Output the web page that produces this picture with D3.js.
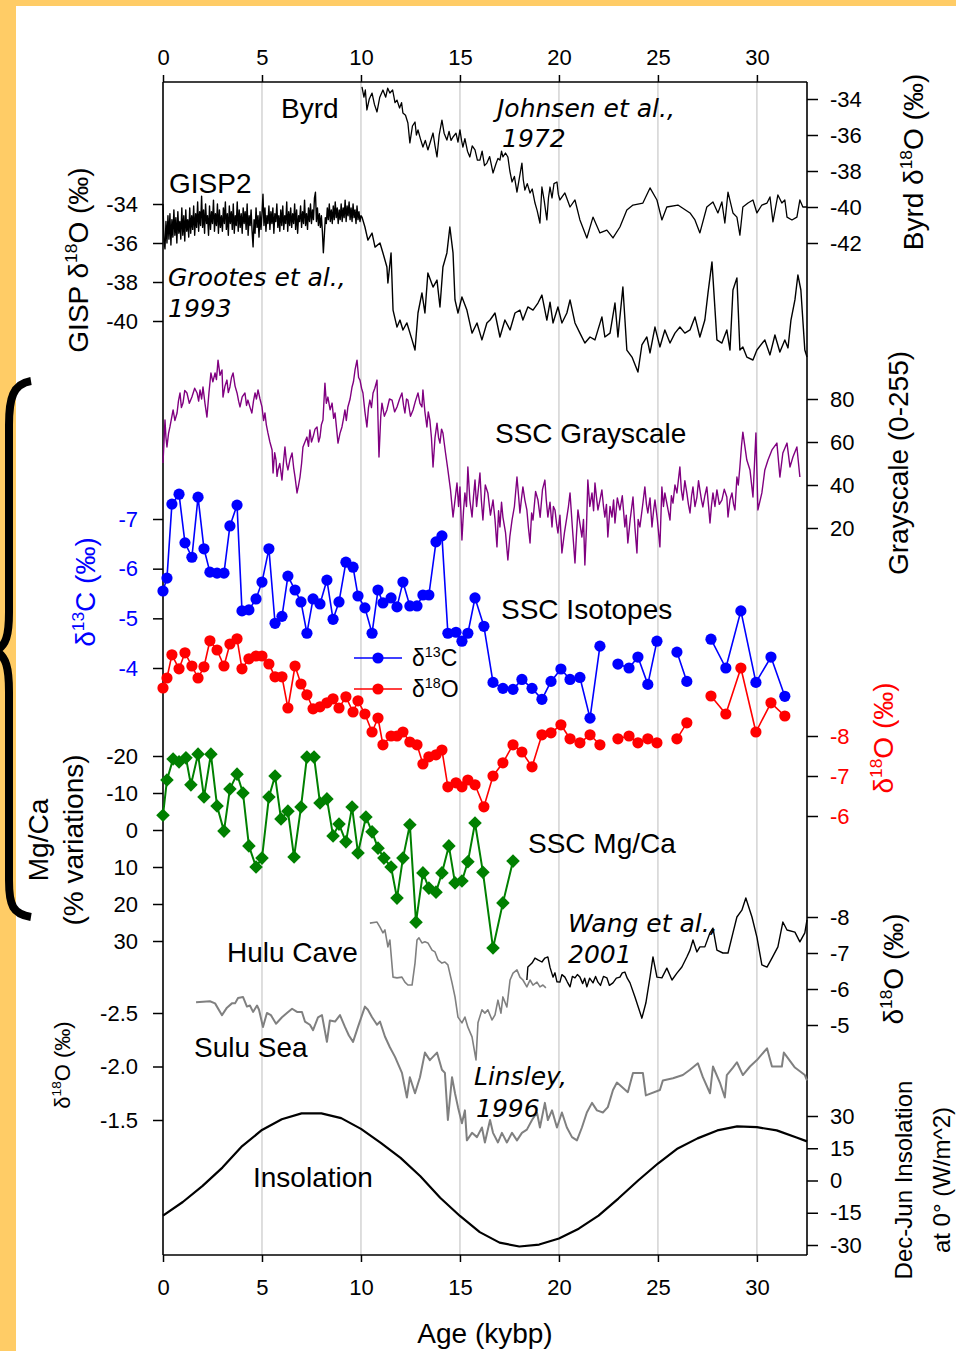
<!DOCTYPE html>
<html>
<head>
<meta charset="utf-8">
<script src="https://cdn.jsdelivr.net/npm/d3@7"></script>
<style>
  html, body { margin: 0; padding: 0; background: #fff; }
  svg { display: block; }
</style>
</head>
<body>
<svg id="chart" width="956" height="1351"></svg>
<script>
// ---------------- data ----------------
const ageTicks = [0, 5, 10, 15, 20, 25, 30];

// Byrd ice core d18O (permil): [age kybp, value]
const byrd = [
  [10.05,-33.33],[10.15,-33.9],[10.22,-33.5],[10.3,-34.61],[10.42,-34.0],[10.56,-33.67],[10.68,-34.3],[10.81,-34.72],[10.95,-33.9],[11.11,-33.5],
  [11.25,-33.9],[11.35,-33.4],[11.46,-33.67],[11.6,-33.5],[11.72,-34.2],[11.82,-34.06],[11.95,-34.5],[12.05,-34.2],[12.12,-34.78],[12.25,-34.9],
  [12.37,-35.33],[12.47,-36.44],[12.6,-35.5],[12.73,-35.28],[12.8,-36.0],[12.88,-35.72],[13.0,-36.2],[13.13,-36.67],[13.25,-36.3],[13.38,-36.83],
  [13.5,-36.4],[13.64,-35.89],[13.74,-36.6],[13.84,-37.22],[13.95,-36.0],[14.09,-35.17],[14.2,-35.9],[14.34,-36.28],[14.45,-35.8],[14.55,-36.3],
  [14.65,-36.11],[14.8,-35.9],[14.9,-36.4],[15.0,-35.72],[15.08,-36.3],[15.15,-36.67],[15.25,-36.2],[15.38,-36.9],[15.5,-37.22],[15.62,-36.6],
  [15.76,-36.83],[15.88,-37.4],[16.01,-37.39],[16.12,-36.9],[16.24,-37.7],[16.36,-37.56],[16.5,-37.2],[16.67,-38.11],[16.82,-37.6],[16.92,-37.3],
  [17.02,-37.39],[17.1,-36.9],[17.17,-37.22],[17.3,-37.0],[17.42,-37.22],[17.52,-38.0],[17.63,-38.61],[17.75,-38.3],[17.88,-39.17],[18.0,-38.4],
  [18.13,-37.56],[18.2,-38.5],[18.28,-39.06],[18.4,-38.7],[18.54,-39.22],[18.65,-39.0],[18.79,-39.78],[18.9,-40.2],[19.04,-40.89],[19.14,-38.89],
  [19.25,-39.6],[19.39,-40.72],[19.47,-39.5],[19.55,-38.89],[19.65,-39.5],[19.75,-38.7],[19.9,-38.61],[19.97,-39.3],[20.05,-39.61],[20.3,-39.22],
  [20.56,-40.0],[20.81,-39.61],[21.06,-40.72],[21.41,-41.72],[21.72,-40.56],[22.07,-41.44],[22.42,-41.28],[22.73,-41.72],[23.08,-41.11],[23.43,-40.17],
  [23.74,-39.89],[24.24,-39.78],[24.6,-38.94],[24.95,-39.61],[25.2,-40.72],[25.45,-40.0],[26.01,-39.89],[26.62,-40.33],[26.87,-40.72],[27.12,-41.44],
  [27.47,-40.0],[27.78,-39.72],[28.03,-40.33],[28.23,-39.72],[28.38,-40.89],[28.54,-39.17],[28.79,-40.33],[28.99,-40.56],[29.14,-41.56],[29.29,-40.0],
  [29.55,-39.78],[29.8,-39.61],[30.0,-40.33],[30.25,-39.89],[30.51,-39.78],[30.66,-39.44],[30.81,-40.83],[31.06,-39.33],[31.26,-39.78],[31.41,-39.61],
  [31.52,-40.56],[31.77,-40.72],[32.02,-40.56],[32.17,-39.61],[32.32,-40.0],[32.53,-40.0]];

// GISP2 d18O: Holocene part at a fixed sampling step, then the glacial part
const gispHoloceneStep = 0.05;
const gispHolocene = [
  -34.0,-35.9,-36.3,-34.9,-36.0,-34.6,-35.8,-34.5,-36.1,-34.8,
  -35.7,-34.3,-35.6,-34.7,-36.0,-34.4,-35.5,-34.9,-35.8,-34.2,
  -35.6,-34.6,-35.9,-34.3,-35.4,-34.8,-35.7,-34.2,-35.5,-34.6,
  -35.3,-34.1,-35.6,-34.5,-35.2,-33.9,-35.4,-34.4,-35.1,-33.6,
  -35.2,-34.3,-35.5,-34.0,-35.0,-34.6,-35.6,-34.1,-35.3,-34.4,
  -35.0,-33.8,-35.4,-34.5,-35.1,-34.0,-35.5,-34.3,-35.2,-34.6,
  -35.4,-34.2,-35.0,-33.9,-35.3,-34.5,-35.6,-34.1,-35.0,-34.4,
  -35.3,-34.0,-35.5,-34.6,-35.1,-33.9,-35.4,-34.3,-35.2,-34.5,
  -35.5,-34.2,-35.0,-34.4,-35.3,-34.0,-35.6,-34.6,-35.1,-34.3,
  -35.4,-36.2,-34.8,-35.5,-34.2,-35.2,-34.6,-35.7,-34.4,-35.3,
  -34.5,-33.5,-35.1,-34.2,-35.4,-34.6,-35.0,-34.1,-35.3,-34.4,
  -35.0,-34.2,-35.5,-34.5,-34.9,-34.0,-35.2,-34.6,-35.4,-34.3,
  -35.1,-34.1,-35.3,-34.6,-35.0,-33.9,-35.4,-34.4,-35.1,-34.2,
  -35.2,-34.5,-35.0,-34.0,-35.3,-34.3,-35.5,-34.6,-34.9,-34.1,
  -35.2,-34.4,-35.0,-33.8,-35.1,-34.5,-35.3,-34.2,-34.9,-34.0,
  -35.0,-34.3,-34.8,-33.7,-33.4,-34.9,-34.2,-35.1,-34.5,-35.2,
  -34.6,-35.4,-36.5,-35.6,-34.7,-35.0,-34.2,-34.8,-34.0,-34.9,
  -34.3,-35.0,-34.1,-34.8,-33.9,-34.7,-34.2,-35.0,-34.3,-34.8,
  -34.0,-34.9,-34.2,-34.7,-33.8,-34.9,-34.1,-34.6,-33.9,-34.8,
  -34.2,-34.9,-34.0,-34.7,-34.3,-35.0,-34.1,-34.8,-34.4,-34.9,
  -34.6];
const gispAge = [10.05,10.2,10.35,10.56,10.71,10.96,11.11,11.31,11.36,11.52,11.62,11.82,11.97,12.12,12.32,12.58,12.73,12.88,13.08,13.23,13.38,13.64,13.84,13.99,14.14,14.34,14.49,14.65,14.75,14.9,15.1,15.35,15.61,15.86,16.11,16.36,16.52,16.77,17.02,17.27,17.53,17.78,18.03,18.18,18.43,18.69,18.94,19.14,19.39,19.55,19.7,19.95,20.15,20.4,20.56,20.81,21.06,21.31,21.57,21.82,22.17,22.32,22.58,22.83,22.98,23.23,23.43,23.69,23.99,24.19,24.44,24.6,24.85,25.1,25.35,25.61,25.86,26.11,26.36,26.62,26.87,27.12,27.37,27.53,27.73,27.98,28.23,28.48,28.64,28.79,28.99,29.14,29.29,29.49,29.8,30.0,30.4,30.66,30.91,31.16,31.41,31.57,31.72,31.92,32.07,32.22,32.42,32.53];
const gispO18 = [-34.67,-35.18,-35.85,-35.49,-36.21,-36.0,-36.51,-37.23,-38.05,-36.51,-39.44,-40.31,-39.95,-40.46,-40.1,-40.97,-41.49,-39.59,-38.56,-39.59,-37.54,-38.26,-37.9,-39.28,-37.23,-36.51,-35.18,-36.51,-38.92,-39.59,-38.77,-39.44,-40.62,-40.1,-40.97,-40.1,-39.95,-39.59,-40.82,-39.95,-40.46,-39.59,-39.44,-39.95,-39.28,-39.44,-39.08,-38.67,-39.95,-39.03,-40.1,-39.28,-40.1,-39.59,-38.92,-40.1,-40.62,-41.13,-40.82,-40.97,-39.79,-40.82,-40.62,-39.08,-40.82,-38.26,-41.49,-41.85,-42.62,-41.23,-40.82,-41.64,-40.31,-41.33,-40.46,-41.13,-40.62,-40.31,-40.62,-40.46,-39.79,-40.82,-39.95,-38.56,-36.97,-40.97,-41.13,-40.46,-41.49,-38.41,-37.79,-41.49,-41.33,-41.85,-42.0,-41.49,-40.97,-41.74,-40.72,-41.59,-40.97,-41.38,-39.95,-38.92,-37.64,-38.41,-41.49,-41.85];

// SSC core grayscale (0-255): [age kybp, value]
const grayscale = [
  [0,50.2],[0.05,60],[0.1,70.2],[0.15,62],[0.2,57.7],[0.28,64],[0.35,67.0],[0.43,71],[0.51,74.9],[0.6,70],
  [0.71,73.5],[0.78,79],[0.86,82.8],[0.93,76],[1.01,78.1],[1.1,84],[1.21,82.8],[1.33,78],[1.46,80.9],[1.6,85],
  [1.72,82.8],[1.8,79],[1.87,84.2],[1.95,80],[2.02,85.6],[2.12,78],[2.22,71.6],[2.32,82.8],[2.42,92.1],[2.52,88],
  [2.63,92.1],[2.7,89],[2.78,98.1],[2.88,91],[2.98,93.5],[3.03,80.9],[3.13,86],[3.23,88.8],[3.3,83],[3.38,85.6],
  [3.46,90],[3.54,92.1],[3.64,86],[3.74,82.8],[3.82,79],[3.89,76.3],[4.0,81],[4.14,82.8],[4.22,77],[4.29,79.5],
  [4.4,76],[4.49,73.5],[4.57,79],[4.65,82.8],[4.72,80],[4.8,84.2],[4.9,80],[5.0,76.3],[5.08,70],[5.15,73.5],
  [5.22,68],[5.3,64.2],[5.4,60],[5.51,56.3],[5.56,45.6],[5.64,55],[5.71,51.6],[5.76,44],[5.81,47.0],[5.9,50],
  [6.01,42.3],[6.08,50],[6.16,57.7],[6.24,50],[6.31,47.0],[6.42,52],[6.52,54.9],[6.6,48],[6.67,43.7],[6.77,36.3],
  [6.85,40],[6.92,43.7],[7.0,50],[7.07,57.7],[7.17,60],[7.27,62.3],[7.35,58],[7.42,65.6],[7.5,60],[7.58,62.3],
  [7.68,66],[7.78,67.0],[7.86,60],[7.93,62.3],[8.0,68],[8.08,70.2],[8.18,87.4],[8.25,78],[8.33,80.9],[8.44,75],
  [8.54,78.1],[8.62,71],[8.69,73.5],[8.77,66],[8.84,59.5],[8.94,64],[9.04,67.0],[9.12,71],[9.19,74.9],[9.26,70],
  [9.34,76.3],[9.45,80],[9.55,85.6],[9.62,88],[9.7,93.5],[9.8,98.1],[9.88,90],[9.95,88.8],[10.03,85],[10.1,82.8],
  [10.2,74],[10.3,67.0],[10.38,76],[10.45,79.5],[10.53,76],[10.61,82.8],[10.7,85],[10.81,88.8],[10.91,53.0],[11.0,72],
  [11.06,78.1],[11.18,72],[11.31,74.9],[11.44,80],[11.57,79.5],[11.7,74],[11.82,76.3],[11.95,80],[12.07,82.8],[12.15,77],
  [12.22,73.5],[12.3,80],[12.37,79.5],[12.5,72],[12.63,74.9],[12.75,79],[12.88,82.8],[12.98,78],[13.08,76.3],[13.13,84.2],
  [13.23,74],[13.33,67.0],[13.4,74],[13.48,70.2],[13.56,62],[13.64,48.4],[13.74,62],[13.84,68.8],[13.92,62],[13.99,59.5],
  [14.07,66],[14.14,64.2],[14.27,55],
  [14.39,47.0],[14.52,38],[14.65,25.1],[14.75,33],[14.85,40.9],[14.93,30],[15.0,39.1],[15.1,14.4],[15.18,28],[15.25,36.3],
  [15.33,30],[15.4,48.4],[15.5,33],[15.61,25.1],[15.68,34],[15.76,42.3],[15.84,30],[15.91,36.3],[16.01,45.6],[16.08,33],
  [16.16,23.7],[16.28,40],[16.41,36.3],[16.54,26],[16.67,33.0],[16.77,24],[16.87,11.2],[16.95,28],[17.02,20.5],[17.1,32],
  [17.17,25.1],[17.3,18],[17.42,5.1],[17.52,16],[17.63,23.7],[17.75,30],[17.88,43.7],[17.96,35],[18.03,27.0],[18.1,33],
  [18.18,39.1],[18.28,33],[18.38,28.4],[18.46,20],[18.54,13.0],[18.62,27],[18.69,23.7],[18.82,37],[18.94,33.0],[19.05,25],
  [19.17,38],[19.29,42.3],[19.36,33],[19.44,25.1],[19.55,32],[19.65,20.5],[19.72,30],[19.8,28.4],[19.88,22],[19.95,17.7],
  [20.05,26],[20.15,8.4],[20.28,18],[20.4,25.1],[20.48,30],[20.56,36.3],[20.68,20],[20.81,3.7],[20.88,16],[20.96,28.4],
  [21.06,22],[21.16,15.8],[21.24,24],[21.31,2.8],[21.39,20],[21.46,42.3],[21.56,30],[21.67,36.3],[21.75,28],[21.82,40.9],
  [21.9,34],[21.97,28.4],[22.07,33],[22.17,37.7],[22.25,30],[22.32,25.1],[22.4,31],[22.47,15.8],[22.58,30],[22.68,25.1],
  [22.76,33],[22.83,22.3],[22.95,34],[23.08,28.4],[23.2,35],[23.33,20.5],[23.4,26],[23.48,13.0],[23.6,24],[23.74,34.4],
  [23.84,20],[23.94,8.4],[24.0,24],[24.09,20.5],[24.22,30],[24.34,39.1],[24.42,31],[24.49,27.0],[24.6,34],[24.7,20.5],
  [24.78,28],[24.85,33.0],[24.97,24],[25.1,11.2],[25.2,39.1],[25.28,30],[25.35,36.3],[25.48,30],[25.61,23.7],[25.68,35],
  [25.76,31.6],[25.86,40],[25.96,36.3],[26.03,42],[26.11,48.4],[26.18,38],[26.26,33.0],[26.36,42],[26.46,36.3],[26.54,31],
  [26.62,27.0],[26.7,35],[26.77,39.1],[26.87,30],[26.97,34.4],[27.05,42],[27.12,37.7],[27.2,33],[27.27,29.8],[27.37,35],
  [27.47,39.1],[27.55,31],[27.63,22.3],[27.7,30],[27.78,36.3],[27.88,30],[27.98,37.7],[28.1,31],[28.23,33.0],[28.35,38],
  [28.48,34.4],[28.54,25.1],[28.64,33],[28.74,36.3],[28.82,31],[28.89,28.4],[28.99,43.7],[29.06,40],[29.14,48.4],[29.22,58],
  [29.29,64.6],[29.49,51.6],[29.65,47.0],[29.8,34.4],[29.95,64.2],[30.05,28.4],[30.25,36.3],[30.4,47.0],[30.56,51.6],[30.76,56.3],
  [31.01,59.5],[31.16,43.7],[31.31,54.9],[31.52,59.5],[31.67,48.4],[31.82,53.0],[32.02,57.7],[32.17,43.7]];

// SSC foraminifera isotopes (null = gap in the record)
const isoAge = [0,0.2,0.45,0.81,1.11,1.46,1.77,2.07,2.37,2.73,3.08,3.38,3.74,3.99,4.34,4.7,5.0,5.35,5.66,6.01,6.31,6.67,6.97,7.27,7.58,7.93,8.28,8.59,8.89,9.24,9.6,9.85,10.2,10.56,10.86,11.11,11.52,11.82,12.12,12.47,12.83,13.13,13.43,13.79,14.09,14.39,14.8,15.1,15.4,15.76,16.21,16.67,17.17,17.68,18.13,18.64,19.14,19.6,20.1,20.56,21.06,21.57,22.07,null,22.98,23.54,23.99,24.49,24.95,null,25.96,26.46,null,27.68,28.43,29.19,29.95,30.71,31.41];
const d13C = [-5.55,-5.81,-7.30,-7.50,-6.52,-6.23,-7.44,-6.40,-5.93,-5.91,-5.91,-6.86,-7.28,-5.15,-5.17,-5.39,-5.73,-6.40,-4.90,-5.04,-5.85,-5.57,-5.33,-4.70,-5.39,-5.29,-5.77,-4.98,-5.33,-6.13,-6.03,-5.45,-5.21,-4.70,-5.57,-5.31,-5.41,-5.23,-5.73,-5.25,-5.25,-5.47,-5.47,-6.54,-6.66,-4.70,-4.72,-4.54,-4.70,-5.41,-4.84,-3.71,-3.59,-3.57,-3.77,-3.59,-3.37,-3.73,-3.98,-3.77,-3.81,-2.99,-4.44,null,-4.08,-4.00,-4.22,-3.67,-4.54,null,-4.32,-3.73,null,-4.58,-4.00,-5.15,-3.71,-4.22,-3.43];
const d18O = [-9.20,-9.45,-10.03,-9.68,-10.08,-9.75,-9.45,-9.73,-10.38,-10.15,-9.75,-10.30,-10.43,-9.68,-9.93,-10.0,-10.0,-9.80,-9.48,-9.48,-8.70,-9.75,-9.30,-9.03,-8.68,-8.73,-8.83,-8.93,-8.70,-8.98,-8.60,-8.88,-8.55,-8.10,-8.45,-7.78,-8.0,-8.0,-8.10,-7.85,-7.78,-7.30,-7.48,-7.53,-7.65,-6.73,-6.83,-6.73,-6.90,-6.78,-6.23,-7.0,-7.33,-7.78,-7.60,-7.23,-8.03,-8.08,-8.28,-7.93,-7.83,-8.03,-7.78,null,-7.93,-8.0,-7.83,-7.93,-7.83,null,-7.93,-8.33,null,-9.0,-8.55,-9.70,-8.10,-8.83,-8.50];

// SSC Mg/Ca (% variations)
const mgcaAge = [0,0.2,0.51,0.81,1.16,1.41,1.77,2.07,2.42,2.73,3.08,3.38,3.74,4.04,4.34,4.7,5.0,5.35,5.66,5.96,6.31,6.62,6.97,7.27,7.63,7.93,8.28,8.59,8.89,9.24,9.55,9.85,10.25,10.56,10.86,11.16,11.52,11.82,12.12,12.47,12.78,13.13,13.43,13.79,14.09,14.44,14.75,15.1,15.4,15.76,16.16,16.67,17.17,17.68];
const mgca = [-4.0,-13.5,-19.2,-18.4,-19.5,-12.2,-20.5,-8.9,-20.5,-6.5,0.3,-11.1,-15.1,-10.0,4.3,10.0,7.6,-8.9,-14.6,-3.0,-5.1,7.3,-6.2,-19.7,-19.7,-7.3,-8.4,1.6,-1.6,3.2,-6.2,6.2,-3.5,0.5,4.9,7.6,10.0,18.4,7.6,-1.4,24.9,11.6,15.7,16.8,11.6,4.3,14.3,13.8,8.6,-1.9,11.4,31.9,19.7,8.4];

// Hulu Cave stalagmite d18O: older record (grey) and Wang et al. record (black)
const huluGrayAge = [10.45,10.81,10.96,11.11,11.21,11.36,11.46,11.62,11.82,12.07,12.22,12.37,12.58,12.73,12.83,12.93,13.08,13.23,13.38,13.59,13.74,13.89,14.09,14.24,14.39,14.6,14.75,14.9,15.1,15.25,15.4,15.61,15.81,15.91,16.11,16.26,16.41,16.62,16.77,16.92,17.07,17.17,17.37,17.53,17.68,17.88,18.03,18.18,18.38,18.54,18.69,18.89,19.04,19.19,19.34];
const huluGray = [-7.83,-7.86,-7.72,-7.56,-7.64,-7.17,-7.36,-6.33,-6.31,-6.33,-6.19,-6.11,-6.11,-6.72,-7.36,-7.42,-7.28,-7.31,-7.28,-7.08,-7.03,-6.81,-6.72,-6.75,-6.67,-6.17,-5.78,-5.22,-5.06,-5.22,-4.94,-4.67,-4.03,-5.06,-5.42,-5.33,-5.42,-5.14,-5.28,-5.69,-5.33,-5.78,-5.5,-6.25,-6.44,-6.53,-6.33,-6.25,-6.06,-6.25,-6.11,-6.19,-6.06,-6.11,-6.03];
const huluWang = [
  [18.38,-6.25],[18.43,-6.61],[18.64,-6.72],[18.79,-6.86],[18.94,-6.81],[19.14,-6.75],[19.29,-6.86],[19.44,-6.89],[19.55,-6.6],[19.7,-6.33],
  [19.8,-6.45],[19.9,-6.2],[20.05,-6.19],[20.15,-6.4],[20.3,-6.33],[20.42,-6.2],[20.56,-6.06],[20.68,-6.35],[20.81,-6.31],[20.93,-6.4],
  [21.06,-6.33],[21.2,-6.15],[21.3,-6.3],[21.41,-6.06],[21.55,-6.3],[21.72,-6.17],[21.85,-6.35],[21.97,-6.19],[22.1,-6.1],[22.25,-6.35],
  [22.42,-6.31],[22.55,-6.1],[22.73,-6.17],[22.9,-6.3],[23.08,-6.33],[23.2,-6.45],[23.33,-6.47],[23.45,-6.3],[23.59,-6.17],[23.84,-5.78],
  [24.19,-5.19],[24.39,-5.61],[24.6,-6.33],[24.75,-6.89],[24.95,-6.33],[25.2,-6.31],[25.45,-6.58],[25.71,-6.25],[25.96,-6.44],[26.21,-6.61],
  [26.46,-6.89],[26.62,-7.08],[26.77,-7.36],[26.97,-7.03],[27.12,-7.17],[27.37,-7.17],[27.63,-7.56],[27.78,-7.69],[27.98,-7.08],[28.28,-7.0],
  [28.54,-7.0],[28.79,-7.56],[28.99,-8.0],[29.24,-8.19],[29.44,-8.53],[29.75,-8.0],[30.0,-7.44],[30.25,-6.67],[30.51,-6.61],[30.76,-6.86],
  [31.06,-7.17],[31.31,-7.86],[31.52,-7.64],[31.92,-7.58],[32.17,-7.31],[32.42,-7.56],[32.53,-7.92]];

// Sulu Sea planktonic d18O
const suluAge = [1.67,2.37,2.63,2.98,3.23,3.48,3.64,3.79,4.04,4.24,4.39,4.55,4.75,4.85,5.05,5.25,5.45,5.71,6.01,6.26,6.52,6.77,7.02,7.17,7.42,7.58,7.83,8.03,8.28,8.43,8.69,8.94,9.19,9.39,9.6,9.85,10.2,10.35,10.56,10.81,10.96,11.21,11.46,11.72,12.07,12.32,12.47,12.73,12.98,13.23,13.48,13.84,14.09,14.24,14.39,14.6,14.75,14.9,15.1,15.25,15.35,15.61,15.86,16.11,16.26,16.52,16.67,16.92,17.12,17.37,17.63,17.88,18.13,18.38,18.64,18.89,19.04,19.29,19.44,19.65,19.9,20.15,20.4,20.66,20.91,21.16,21.41,21.67,21.92,22.22,22.47,22.73,22.93,23.48,23.74,24.24,24.39,25.1,25.25,25.76,26.26,26.62,27.02,27.27,27.63,27.78,28.13,28.38,28.48,28.79,28.99,29.29,29.65,30.0,30.51,30.76,31.26,31.36,31.92,32.42,32.53];
const suluO18 = [-2.60,-2.61,-2.59,-2.48,-2.55,-2.59,-2.59,-2.64,-2.65,-2.56,-2.57,-2.51,-2.57,-2.53,-2.37,-2.50,-2.48,-2.40,-2.46,-2.50,-2.54,-2.51,-2.51,-2.42,-2.39,-2.34,-2.46,-2.48,-2.23,-2.43,-2.42,-2.48,-2.37,-2.29,-2.23,-2.37,-2.56,-2.53,-2.46,-2.39,-2.42,-2.28,-2.18,-2.09,-1.94,-1.71,-1.90,-1.75,-1.90,-2.13,-2.06,-2.13,-1.97,-1.94,-1.50,-1.90,-1.75,-1.62,-1.47,-1.59,-1.31,-1.38,-1.34,-1.43,-1.29,-1.50,-1.38,-1.29,-1.38,-1.29,-1.38,-1.31,-1.38,-1.41,-1.50,-1.57,-1.43,-1.66,-1.50,-1.59,-1.43,-1.57,-1.43,-1.34,-1.31,-1.43,-1.57,-1.66,-1.59,-1.57,-1.62,-1.78,-1.85,-1.76,-1.94,-1.94,-1.73,-1.78,-1.87,-1.89,-1.92,-1.97,-2.03,-1.90,-1.75,-2.0,-1.85,-1.71,-1.92,-1.99,-2.04,-1.92,-2.0,-2.06,-2.17,-2.0,-2.0,-2.13,-1.99,-1.92,-1.87];

// Dec-Jun insolation difference at the equator (W/m^2)
const insolAge = [0,1,2,3,4,5,6,7,8,9,10,11,12,13,14,15,16,17,18,19,20,21,22,23,24,25,26,27,28,29,30,31,32,32.53];
const insol = [-16.3,-10.0,-2.5,6.0,16.0,23.5,28.5,31.2,31.2,29.0,24.0,17.5,10.5,2.0,-8.0,-16.5,-24.0,-28.9,-30.7,-29.8,-27.0,-22.4,-16.3,-8.4,0.0,7.9,14.9,19.6,23.3,25.2,24.8,23.3,20.0,18.2];

// tick values of the stacked y axes
const byrdTicks = [-34, -36, -38, -40, -42];
const gispTicks = [-34, -36, -38, -40];
const grayTicks = [80, 60, 40, 20];
const c13Ticks = [-7, -6, -5, -4];
const o18Ticks = [-8, -7, -6];
const mgcaTicks = [-20, -10, 0, 10, 20, 30];
const huluTicks = [-8, -7, -6, -5];
const suluTicks = [-2.5, -2.0, -1.5];
const insolTicks = [30, 15, 0, -15, -30];

// ---------------- drawing ----------------
const FONT = "'Liberation Sans', Arial, Helvetica, sans-serif";
const ITALIC = "'DejaVu Sans', Verdana, sans-serif";
const W = 956, H = 1351;
const L = 163, R = 807, T = 82, B = 1255;

const svg = d3.select("#chart");
svg.append("rect").attr("width", W).attr("height", H).attr("fill", "#FFCC66");
svg.append("rect").attr("x", 16).attr("y", 6).attr("width", W - 16).attr("height", H - 6).attr("fill", "#fff");

// curly brace grouping the SSC records
svg.append("path")
  .attr("d", "M31,381 C13,384 9,398 9,425 L9,612 C9,636 6,645 -4,651 C6,657 9,667 9,692 L9,880 C9,906 13,914 31,917")
  .attr("fill", "none").attr("stroke", "#000").attr("stroke-width", 8);

const x = d3.scaleLinear().domain([0, 32.53]).range([L, R]);

const yByrd = d3.scaleLinear().domain([-34, -42]).range([99, 243]);
const yGisp = d3.scaleLinear().domain([-34, -40]).range([204, 321]);
const yGray = d3.scaleLinear().domain([80, 20]).range([399, 528]);
const yC13 = d3.scaleLinear().domain([-7, -4]).range([519, 668]);
const yO18 = d3.scaleLinear().domain([-8, -6]).range([736, 816]);
const yMgCa = d3.scaleLinear().domain([-20, 30]).range([756, 941]);
const yHulu = d3.scaleLinear().domain([-8, -5]).range([917, 1025]);
const ySulu = d3.scaleLinear().domain([-2.5, -1.5]).range([1013, 1120]);
const yInsol = d3.scaleLinear().domain([30, -30]).range([1116, 1245]);

// vertical grid lines
svg.append("g").selectAll("line").data(ageTicks.filter(d => d > 0)).join("line")
  .attr("x1", d => x(d)).attr("x2", d => x(d)).attr("y1", T).attr("y2", B)
  .attr("stroke", "#c8c8c8").attr("stroke-width", 1.2);

// frame
const frame = svg.append("g").attr("stroke", "#000").attr("stroke-width", 1.6);
frame.append("line").attr("x1", L).attr("x2", R).attr("y1", T).attr("y2", T);
frame.append("line").attr("x1", L).attr("x2", R).attr("y1", B).attr("y2", B);
frame.append("line").attr("x1", L).attr("x2", L).attr("y1", T).attr("y2", B);
frame.append("line").attr("x1", R).attr("x2", R).attr("y1", T).attr("y2", B);

// age axes
function styleAxis(g, color) {
  g.select(".domain").remove();
  g.attr("font-family", FONT).attr("font-size", 22);
  g.selectAll(".tick line").attr("stroke", "#000").attr("stroke-width", 1.5);
  g.selectAll(".tick text").attr("fill", color || "#000");
}
svg.append("g").attr("transform", `translate(0,${T})`)
  .call(d3.axisTop(x).tickValues(ageTicks).tickSize(7).tickPadding(10))
  .call(g => styleAxis(g));
svg.append("g").attr("transform", `translate(0,${B})`)
  .call(d3.axisBottom(x).tickValues(ageTicks).tickSize(7).tickPadding(17))
  .call(g => styleAxis(g));

function yAxis(scale, side, ticks, color, fmt) {
  const left = side === "left";
  const ax = (left ? d3.axisLeft(scale) : d3.axisRight(scale))
    .tickValues(ticks)
    .tickSize(left ? 10 : 11)
    .tickPadding(left ? 15 : 12)
    .tickFormat(fmt || (d => String(d)));
  svg.append("g").attr("transform", `translate(${left ? L : R},0)`)
    .call(ax).call(g => styleAxis(g, color));
}
yAxis(yByrd, "right", byrdTicks);
yAxis(yGisp, "left", gispTicks);
yAxis(yGray, "right", grayTicks);
yAxis(yC13, "left", c13Ticks, "#0000ff");
yAxis(yO18, "right", o18Ticks, "#ff0000");
yAxis(yMgCa, "left", mgcaTicks);
yAxis(yHulu, "right", huluTicks);
yAxis(ySulu, "left", suluTicks, "#000", d => d.toFixed(1));
yAxis(yInsol, "right", insolTicks);

// series
function trace(pairs, ys, color, width) {
  svg.append("path").datum(pairs)
    .attr("d", d3.line()
      .defined(d => d[0] != null && d[1] != null)
      .x(d => x(d[0])).y(d => ys(d[1])))
    .attr("fill", "none").attr("stroke", color)
    .attr("stroke-width", width).attr("stroke-linejoin", "round");
}

const gispPairs = gispHolocene.map((v, i) => [i * gispHoloceneStep, v])
  .concat(d3.zip(gispAge, gispO18));

trace(byrd, yByrd, "#000", 1.3);
trace(gispPairs, yGisp, "#000", 1.4);
trace(grayscale, yGray, "#800080", 1.4);

const c13Pairs = d3.zip(isoAge, d13C);
const o18Pairs = d3.zip(isoAge, d18O);
trace(c13Pairs, yC13, "#0000ff", 1.6);
trace(o18Pairs, yO18, "#ff0000", 1.6);
svg.append("g").selectAll("circle").data(c13Pairs.filter(d => d[0] != null && d[1] != null)).join("circle")
  .attr("cx", d => x(d[0])).attr("cy", d => yC13(d[1])).attr("r", 5.6).attr("fill", "#0000ff");
svg.append("g").selectAll("circle").data(o18Pairs.filter(d => d[0] != null && d[1] != null)).join("circle")
  .attr("cx", d => x(d[0])).attr("cy", d => yO18(d[1])).attr("r", 5.6).attr("fill", "#ff0000");

const mgPairs = d3.zip(mgcaAge, mgca);
trace(mgPairs, yMgCa, "#008000", 2);
svg.append("g").selectAll("path").data(mgPairs).join("path")
  .attr("transform", d => `translate(${x(d[0])},${yMgCa(d[1])})`)
  .attr("d", "M0,-6.8L6.8,0L0,6.8L-6.8,0Z").attr("fill", "#008000");

trace(d3.zip(huluGrayAge, huluGray), yHulu, "#808080", 1.6);
trace(huluWang, yHulu, "#000", 1.4);
trace(d3.zip(suluAge, suluO18), ySulu, "#808080", 2);
trace(d3.zip(insolAge, insol), yInsol, "#000", 2.2);

// ---------------- labels ----------------
function richText(parent, parts, fs, family, style) {
  const t = parent.append("text").attr("font-size", fs)
    .attr("font-family", family || FONT);
  if (style) t.attr("font-style", style);
  let raised = false;
  parts.forEach(p => {
    const sup = Array.isArray(p);
    const s = t.append("tspan").text(sup ? p[0] : p);
    if (sup) { s.attr("font-size", fs * 0.62).attr("dy", -fs * 0.4); raised = true; }
    else if (raised) { s.attr("dy", fs * 0.4); raised = false; }
  });
  return t;
}
function label(xp, yp, parts, fs, opts = {}) {
  const g = svg.append("g").attr("transform", `translate(${xp},${yp})`);
  const t = richText(g, parts, fs, opts.family, opts.style);
  t.attr("fill", opts.color || "#000").attr("text-anchor", opts.anchor || "start");
  return t;
}
function vlabel(xb, yc, parts, fs, color) {
  const g = svg.append("g").attr("transform", `translate(${xb},${yc}) rotate(-90)`);
  richText(g, parts, fs).attr("fill", color || "#000").attr("text-anchor", "middle");
}

// panel names
label(281, 118, ["Byrd"], 28);
label(169, 193, ["GISP2"], 28);
label(495, 443, ["SSC Grayscale"], 28);
label(501, 619, ["SSC Isotopes"], 28);
label(528, 853, ["SSC Mg/Ca"], 28);
label(227, 962, ["Hulu Cave"], 28);
label(194, 1057, ["Sulu Sea"], 28);
label(253, 1187, ["Insolation"], 28);

// references
const it = { family: ITALIC, style: "italic" };
label(497, 117, ["Johnsen et al.,"], 25, it);
label(502, 147, ["1972"], 25, it);
label(168, 286, ["Grootes et al.,"], 25, it);
label(168, 317, ["1993"], 25, it);
label(568, 932, ["Wang et al.,"], 25, it);
label(568, 963, ["2001"], 25, it);
label(474, 1085, ["Linsley,"], 25, it);
label(476, 1117, ["1996"], 25, it);

// axis titles
vlabel(88, 260, ["GISP δ", ["18"], "O (‰)"], 28);
vlabel(923, 162, ["Byrd δ", ["18"], "O (‰)"], 28);
vlabel(908, 463, ["Grayscale (0-255)"], 28);
vlabel(95, 592, ["δ", ["13"], "C (‰)"], 28, "#0000ff");
vlabel(893, 738, ["δ", ["18"], "O (‰)"], 28, "#ff0000");
vlabel(48, 840, ["Mg/Ca"], 28);
vlabel(83, 840, ["(% variations)"], 28);
vlabel(903, 969, ["δ", ["18"], "O (‰)"], 28);
vlabel(70, 1065, ["δ", ["18"], "O (‰)"], 22);
vlabel(912, 1180, ["Dec-Jun Insolation"], 24);
vlabel(950, 1180, ["at 0° (W/m^2)"], 24);
label(485, 1343, ["Age (kybp)"], 28, { anchor: "middle" });

// legend for the isotope panel
const leg = svg.append("g");
[[658, "#0000ff", "13", "C"], [689, "#ff0000", "18", "O"]].forEach(([ly, col, sup, el]) => {
  leg.append("line").attr("x1", 354).attr("x2", 402).attr("y1", ly).attr("y2", ly)
    .attr("stroke", col).attr("stroke-width", 1.6);
  leg.append("circle").attr("cx", 378).attr("cy", ly).attr("r", 5.6).attr("fill", col);
  const g = leg.append("g").attr("transform", `translate(412,${ly + 8})`);
  richText(g, ["δ", [sup], el], 23).attr("fill", "#000");
});
</script>
</body>
</html>
